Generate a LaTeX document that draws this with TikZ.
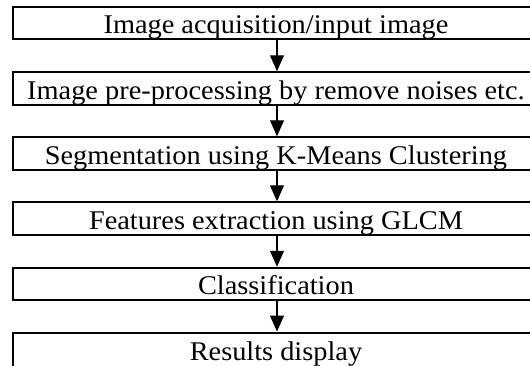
\documentclass[tikz,border=0pt]{standalone}
\usepackage{fontspec}
\setmainfont[FakeStretch=1.05]{Liberation Serif}
\usetikzlibrary{arrows.meta}
\newcommand\boxline[1]{\raisebox{-1.5pt}{\makebox[560pt][l]{\makebox[526pt]{#1}}}}
\begin{document}
\begin{tikzpicture}[x=1pt,y=-1pt,
  box/.style={draw, line width=2pt, minimum width=560pt, minimum height=32.5pt,
    anchor=west, inner sep=0pt, text height=18pt, text depth=0pt,
    font=\fontsize{27}{30}\selectfont},
  flow/.style={line width=1.3pt, -{Triangle[width=14pt,length=16pt]}}]
\useasboundingbox (0,0) rectangle (530,365);
\clip (0,0) rectangle (530,365);
\node[box] (b1) at (12,23)    {\boxline{Image acquisition/input image}};
\node[box] (b2) at (12,88.5)  {\boxline{Image pre-processing by remove noises etc.}};
\node[box] (b3) at (12,153.5) {\boxline{Segmentation using K-Means Clustering}};
\node[box] (b4) at (12,218.5) {\boxline{Features extraction using GLCM}};
\node[box] (b5) at (12,284)   {\boxline{Classification}};
\node[box, minimum height=34pt] (b6) at (12,349.5) {\boxline{Results display}};
\coordinate (ax) at (277,0);
\draw[flow] (b1.south -| ax) -- (b2.north -| ax);
\draw[flow] (b2.south -| ax) -- (b3.north -| ax);
\draw[flow] (b3.south -| ax) -- (b4.north -| ax);
\draw[flow] (b4.south -| ax) -- (b5.north -| ax);
\draw[flow] (b5.south -| ax) -- (b6.north -| ax);
\end{tikzpicture}
\end{document}
